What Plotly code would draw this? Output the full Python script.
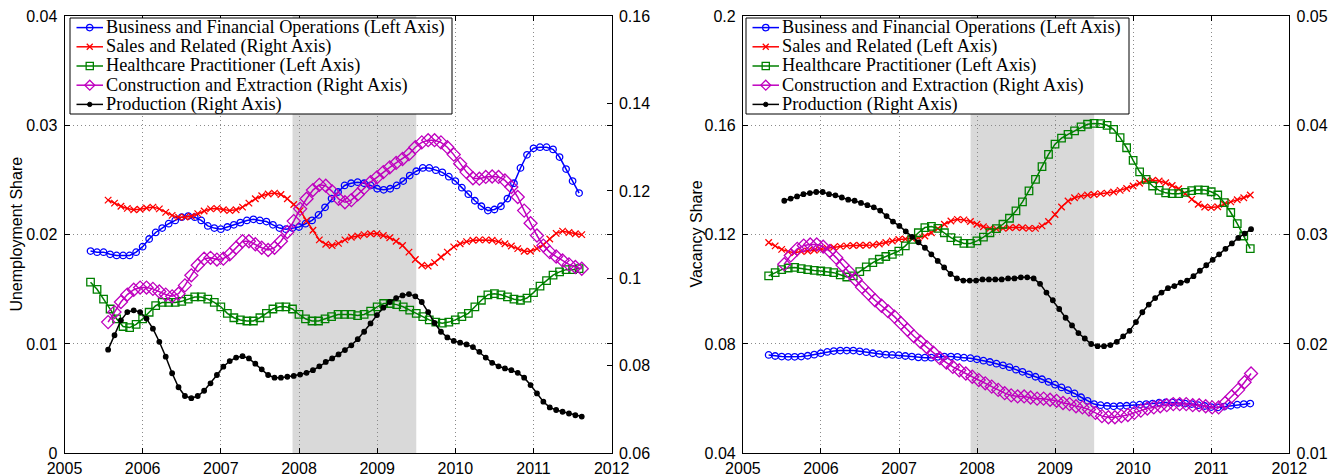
import numpy as np
import plotly.graph_objects as go

# ---------------- data (monthly shares) ----------------
YEARS = [2005, 2006, 2007, 2008, 2009, 2010, 2011, 2012]
RECESSION = (2007.917, 2009.5)

# Left panel: unemployment shares
u_span_left_axis = (2005.333, 2011.583)
u_span_right_axis = (2005.558, 2011.617)

u_business = [0.0185, 0.0184, 0.0184, 0.0182, 0.0181, 0.0181, 0.0181, 0.0184, 0.0189, 0.0196,
              0.0202, 0.0206, 0.0210, 0.0213, 0.0216, 0.0217, 0.0216, 0.0213, 0.0208, 0.0206,
              0.0205, 0.0207, 0.0209, 0.0211, 0.0213, 0.0214, 0.0213, 0.0212, 0.0209, 0.0206,
              0.0205, 0.0206, 0.0207, 0.0210, 0.0213, 0.0218, 0.0225, 0.0233, 0.0239, 0.0245,
              0.0247, 0.0248, 0.0247, 0.0245, 0.0242, 0.0241, 0.0242, 0.0245, 0.0249, 0.0254,
              0.0258, 0.0261, 0.0261, 0.0259, 0.0257, 0.0253, 0.0249, 0.0243, 0.0237, 0.0231,
              0.0226, 0.0222, 0.0223, 0.0226, 0.0233, 0.0247, 0.0261, 0.0273, 0.0279, 0.0280,
              0.0280, 0.0278, 0.0271, 0.0260, 0.0249, 0.0238]
u_sales = [0.1179, 0.1172, 0.1165, 0.1160, 0.1157, 0.1158, 0.1161, 0.1163, 0.1159, 0.1151,
           0.1144, 0.1140, 0.1140, 0.1142, 0.1148, 0.1154, 0.1159, 0.1160, 0.1157, 0.1155,
           0.1157, 0.1163, 0.1172, 0.1182, 0.1189, 0.1193, 0.1195, 0.1192, 0.1182, 0.1169,
           0.1155, 0.1132, 0.1110, 0.1088, 0.1078, 0.1075, 0.1080, 0.1088, 0.1094, 0.1097,
           0.1100, 0.1102, 0.1102, 0.1098, 0.1093, 0.1085, 0.1075, 0.1060, 0.1043, 0.1030,
           0.1028, 0.1036, 0.1049, 0.1060, 0.1072, 0.1079, 0.1084, 0.1087, 0.1088, 0.1088,
           0.1087, 0.1084, 0.1079, 0.1074, 0.1068, 0.1062, 0.1062, 0.1068, 0.1077, 0.1090,
           0.1103, 0.1108, 0.1105, 0.1102, 0.1100]
u_health = [0.01565, 0.0150, 0.0141, 0.0132, 0.0123, 0.0116, 0.0115, 0.0118, 0.0123, 0.0129,
            0.0135, 0.0138, 0.0138, 0.0138, 0.0139, 0.0141, 0.0143, 0.0143, 0.0141, 0.0138,
            0.0134, 0.0128, 0.0124, 0.0122, 0.0121, 0.0121, 0.0124, 0.0128, 0.0132, 0.0134,
            0.0134, 0.0132, 0.0127, 0.0123, 0.0121, 0.0121, 0.0123, 0.0125, 0.0127, 0.0127,
            0.0127, 0.0126, 0.0127, 0.0130, 0.0134, 0.0137, 0.0137, 0.0136, 0.0134, 0.0131,
            0.0128, 0.0125, 0.0122, 0.0120, 0.0119, 0.0120, 0.0122, 0.0125, 0.0128, 0.0134,
            0.0140, 0.0145, 0.0146, 0.0145, 0.0143, 0.0141, 0.0140, 0.0142, 0.0147, 0.0153,
            0.0158, 0.0163, 0.0166, 0.0168, 0.0168, 0.0169]
u_construction = [0.0900, 0.0923, 0.0946, 0.0963, 0.0974, 0.0979, 0.0979, 0.0976, 0.0970, 0.0963,
                  0.0959, 0.0965, 0.0984, 0.1007, 0.1030, 0.1045, 0.1047, 0.1043, 0.1045, 0.1055,
                  0.1070, 0.1085, 0.1085, 0.1078, 0.1070, 0.1065, 0.1070, 0.1085, 0.1106, 0.1131,
                  0.1159, 0.1182, 0.1202, 0.1214, 0.1212, 0.1199, 0.1182, 0.1174, 0.1179, 0.1192,
                  0.1207, 0.1220, 0.1231, 0.1243, 0.1254, 0.1264, 0.1273, 0.1284, 0.1300, 0.1311,
                  0.1316, 0.1316, 0.1311, 0.1300, 0.1283, 0.1262, 0.1243, 0.1229, 0.1228, 0.1232,
                  0.1233, 0.1232, 0.1224, 0.1209, 0.1186, 0.1155, 0.1126, 0.1098, 0.1075, 0.1060,
                  0.1050, 0.1041, 0.1032, 0.1026, 0.1022]
u_production = [0.0837, 0.0870, 0.0904, 0.0923, 0.0927, 0.0923, 0.0908, 0.0885, 0.0855, 0.0821,
                0.0783, 0.0751, 0.0731, 0.0726, 0.0731, 0.0743, 0.0760, 0.0779, 0.0798, 0.0811,
                0.0819, 0.0822, 0.0817, 0.0805, 0.0792, 0.0779, 0.0773, 0.0773, 0.0775, 0.0777,
                0.0780, 0.0784, 0.0790, 0.0799, 0.0809, 0.0817, 0.0826, 0.0836, 0.0847, 0.0861,
                0.0878, 0.0897, 0.0916, 0.0933, 0.0946, 0.0955, 0.0961, 0.0964, 0.0959, 0.0946,
                0.0923, 0.0898, 0.0878, 0.0865, 0.0857, 0.0853, 0.0849, 0.0843, 0.0832, 0.0819,
                0.0807, 0.0799, 0.0794, 0.0790, 0.0784, 0.0773, 0.0756, 0.0737, 0.0718, 0.0705,
                0.0699, 0.0695, 0.0691, 0.0687, 0.0684]

# Right panel: vacancy shares
v_span_left_axis = (2005.33, 2011.50)
v_span_right_axis = (2005.53, 2011.51)

v_business = [0.0760, 0.0756, 0.0754, 0.0753, 0.0753, 0.0754, 0.0757, 0.0761, 0.0766, 0.0771,
              0.0774, 0.0776, 0.0776, 0.0776, 0.0773, 0.0770, 0.0766, 0.0763, 0.0761, 0.0760,
              0.0759, 0.0756, 0.0754, 0.0751, 0.0750, 0.0750, 0.0753, 0.0754, 0.0754, 0.0753,
              0.0750, 0.0748, 0.0744, 0.0739, 0.0734, 0.0728, 0.0722, 0.0715, 0.0706, 0.0698,
              0.0689, 0.0680, 0.0671, 0.0661, 0.0651, 0.0641, 0.0631, 0.0619, 0.0605, 0.0592,
              0.0580, 0.0576, 0.0573, 0.0572, 0.0573, 0.0574, 0.0576, 0.0578, 0.0580, 0.0582,
              0.0585, 0.0586, 0.0586, 0.0585, 0.0582, 0.0580, 0.0576, 0.0573, 0.0569, 0.0568,
              0.0571, 0.0574, 0.0578, 0.0580, 0.0582]
v_sales = [0.1171, 0.1159, 0.1146, 0.1138, 0.1134, 0.1138, 0.1140, 0.1143, 0.1146, 0.1150,
           0.1154, 0.1157, 0.1159, 0.1160, 0.1161, 0.1161, 0.1162, 0.1166, 0.1171, 0.1177,
           0.1182, 0.1184, 0.1187, 0.1189, 0.1195, 0.1207, 0.1222, 0.1238, 0.1250, 0.1256,
           0.1254, 0.1248, 0.1238, 0.1229, 0.1223, 0.1221, 0.1223, 0.1225, 0.1227, 0.1225,
           0.1223, 0.1223, 0.1232, 0.1248, 0.1274, 0.1301, 0.1323, 0.1335, 0.1341, 0.1345,
           0.1347, 0.1350, 0.1352, 0.1356, 0.1362, 0.1369, 0.1378, 0.1388, 0.1396, 0.1399,
           0.1396, 0.1390, 0.1380, 0.1368, 0.1350, 0.1329, 0.1311, 0.1301, 0.1299, 0.1302,
           0.1311, 0.1320, 0.1328, 0.1335, 0.1345]
v_health = [0.1049, 0.1061, 0.1072, 0.1078, 0.1080, 0.1076, 0.1072, 0.1069, 0.1067, 0.1065,
            0.1061, 0.1053, 0.1045, 0.1049, 0.1065, 0.1082, 0.1098, 0.1110, 0.1120, 0.1128,
            0.1140, 0.1159, 0.1183, 0.1207, 0.1226, 0.1230, 0.1223, 0.1207, 0.1189, 0.1177,
            0.1168, 0.1168, 0.1177, 0.1191, 0.1207, 0.1222, 0.1238, 0.1260, 0.1287, 0.1320,
            0.1360, 0.1402, 0.1449, 0.1494, 0.1531, 0.1553, 0.1567, 0.1580, 0.1594, 0.1604,
            0.1607, 0.1606, 0.1600, 0.1585, 0.1555, 0.1518, 0.1472, 0.1430, 0.1402, 0.1378,
            0.1362, 0.1353, 0.1350, 0.1350, 0.1355, 0.1361, 0.1364, 0.1363, 0.1357, 0.1345,
            0.1317, 0.1281, 0.1240, 0.1195, 0.1149]
v_construction = [0.0273, 0.0281, 0.0287, 0.0290, 0.0291, 0.0291, 0.0289, 0.0285, 0.0279, 0.0272,
                  0.0266, 0.0259, 0.0252, 0.0246, 0.0240, 0.0235, 0.0230, 0.0225, 0.0219, 0.0213,
                  0.0207, 0.0202, 0.0197, 0.0192, 0.0187, 0.0183, 0.0179, 0.0176, 0.0173, 0.0170,
                  0.0167, 0.0164, 0.0161, 0.0158, 0.0155, 0.0153, 0.0152, 0.0152, 0.0151, 0.0150,
                  0.0150, 0.0149, 0.0148, 0.0146, 0.0145, 0.0143, 0.0142, 0.0140, 0.0137, 0.0134,
                  0.0133, 0.0133, 0.0134, 0.0135, 0.0137, 0.0139, 0.0141, 0.0142, 0.0143, 0.0144,
                  0.0145, 0.0145, 0.0145, 0.0144, 0.0144, 0.0143, 0.0142, 0.0142, 0.0146, 0.0152,
                  0.0158, 0.0165, 0.0173]
v_production = [0.0331, 0.0333, 0.0335, 0.0337, 0.0338, 0.0339, 0.0339, 0.0337, 0.0336, 0.0334,
                0.0332, 0.0331, 0.0329, 0.0327, 0.0325, 0.0322, 0.0317, 0.0312, 0.0308, 0.0303,
                0.0298, 0.0293, 0.0288, 0.0282, 0.0276, 0.0270, 0.0264, 0.0260, 0.0258, 0.0258,
                0.0258, 0.0259, 0.0259, 0.0259, 0.0259, 0.0260, 0.0260, 0.0261, 0.0261, 0.0260,
                0.0255, 0.0247, 0.0240, 0.0232, 0.0224, 0.0217, 0.0210, 0.0205, 0.0200, 0.0198,
                0.0198, 0.0199, 0.0202, 0.0207, 0.0212, 0.0220, 0.0229, 0.0236, 0.0242, 0.0247,
                0.0251, 0.0253, 0.0256, 0.0258, 0.0262, 0.0267, 0.0272, 0.0277, 0.0282, 0.0287,
                0.0292, 0.0297, 0.0301, 0.0305]

U_LEFT_TICKS = [0, 0.01, 0.02, 0.03, 0.04]
U_LEFT_TEXT = ["0", "0.01", "0.02", "0.03", "0.04"]
U_RIGHT_TICKS = [0.06, 0.08, 0.10, 0.12, 0.14, 0.16]
U_RIGHT_TEXT = ["0.06", "0.08", "0.1", "0.12", "0.14", "0.16"]
V_LEFT_TICKS = [0.04, 0.08, 0.12, 0.16, 0.2]
V_LEFT_TEXT = ["0.04", "0.08", "0.12", "0.16", "0.2"]
V_RIGHT_TICKS = [0.01, 0.02, 0.03, 0.04, 0.05]
V_RIGHT_TEXT = ["0.01", "0.02", "0.03", "0.04", "0.05"]

U_TITLE = "Unemployment Share"
V_TITLE = "Vacancy Share"
U_LABELS = ["Business and Financial Operations (Left Axis)", "Sales and Related (Right Axis)",
            "Healthcare Practitioner (Left Axis)", "Construction and Extraction (Right Axis)",
            "Production (Right Axis)"]
V_LABELS = ["Business and Financial Operations (Left Axis)", "Sales and Related (Left Axis)",
            "Healthcare Practitioner (Left Axis)", "Construction and Extraction (Right Axis)",
            "Production (Right Axis)"]
KEYS = ["business", "sales", "health", "construction", "production"]

# ---------------- styling ----------------
W, H = 1339, 476
BLUE, RED, GREEN, MAGENTA, BLACK = "#0000FF", "#FF0000", "#008000", "#BF00BF", "#000000"
STYLE = {
    "business": dict(color=BLUE, symbol="circle-open", size=6.5),
    "sales": dict(color=RED, symbol="x-thin-open", size=6.5),
    "health": dict(color=GREEN, symbol="square-open", size=7.5),
    "construction": dict(color=MAGENTA, symbol="diamond-open", size=10),
    "production": dict(color=BLACK, symbol="circle", size=4.5),
}


def months(span, values):
    return list(np.linspace(span[0], span[1], len(values)))


fig = go.Figure()


def add(values, span, key, name, xaxis, yaxis):
    st = STYLE[key]
    fig.add_trace(go.Scatter(
        x=months(span, values), y=values, mode="lines+markers", name=name,
        xaxis=xaxis, yaxis=yaxis, showlegend=False,
        line=dict(color=st["color"], width=1.5),
        marker=dict(symbol=st["symbol"], size=st["size"], color=st["color"],
                    line=dict(color=st["color"], width=1.3)),
    ))


add(u_business, u_span_left_axis, "business", U_LABELS[0], "x", "y")
add(u_sales, u_span_right_axis, "sales", U_LABELS[1], "x", "y2")
add(u_health, u_span_left_axis, "health", U_LABELS[2], "x", "y")
add(u_construction, u_span_right_axis, "construction", U_LABELS[3], "x", "y2")
add(u_production, u_span_right_axis, "production", U_LABELS[4], "x", "y2")

add(v_business, v_span_left_axis, "business", V_LABELS[0], "x2", "y3")
add(v_sales, v_span_left_axis, "sales", V_LABELS[1], "x2", "y3")
add(v_health, v_span_left_axis, "health", V_LABELS[2], "x2", "y3")
add(v_construction, v_span_right_axis, "construction", V_LABELS[3], "x2", "y4")
add(v_production, v_span_right_axis, "production", V_LABELS[4], "x2", "y4")

SANS = "Liberation Sans, Arial, sans-serif"
SERIF = "Liberation Serif, Times New Roman, serif"
TICKFONT = dict(family=SANS, size=16, color="black")
GRID = dict(showgrid=True, gridcolor="#8a8a8a", griddash="1px,3px", gridwidth=1)
LINE = dict(showline=True, linecolor="black", linewidth=1, ticks="inside", ticklen=5,
            tickcolor="black", zeroline=False, tickfont=TICKFONT, automargin=False)

XD1 = [64.5 / W, 611.7 / W]
XD2 = [742.9 / W, 1289.3 / W]
YD = [1 - 453.3 / H, 1 - 16 / H]

xax = dict(range=[2005, 2012], tickvals=YEARS, ticktext=[str(y) for y in YEARS],
           mirror="ticks", **GRID, **LINE)

# ---------------- hand-drawn legends (box, line samples, glyphs, text) ----------------
shapes = [
    dict(type="rect", xref="x", yref="y domain", x0=RECESSION[0], x1=RECESSION[1], y0=0, y1=1,
         fillcolor="#D9D9D9", line=dict(width=0), layer="below"),
    dict(type="rect", xref="x2", yref="y3 domain", x0=RECESSION[0], x1=RECESSION[1], y0=0, y1=1,
         fillcolor="#D9D9D9", line=dict(width=0), layer="below"),
]
annotations = []


def px(x):
    return x / W


def py(y):
    return 1 - y / H


def glyph(key, cx, cy):
    st = STYLE[key]
    base = dict(xref="paper", yref="paper", xsizemode="pixel", ysizemode="pixel",
                xanchor=px(cx), yanchor=py(cy), layer="above")
    c = st["color"]
    if key == "business":
        return dict(type="circle", x0=-3.2, x1=3.2, y0=-3.2, y1=3.2, line=dict(color=c, width=1.3),
                    fillcolor="rgba(0,0,0,0)", **base)
    if key == "sales":
        return dict(type="path", path="M-3,-3L3,3M-3,3L3,-3", line=dict(color=c, width=1.3), **base)
    if key == "health":
        return dict(type="rect", x0=-3.6, x1=3.6, y0=-3.6, y1=3.6, line=dict(color=c, width=1.3),
                    fillcolor="rgba(0,0,0,0)", **base)
    if key == "construction":
        return dict(type="path", path="M0,5L5,0L0,-5L-5,0Z", line=dict(color=c, width=1.3),
                    fillcolor="rgba(0,0,0,0)", **base)
    return dict(type="circle", x0=-2.2, x1=2.2, y0=-2.2, y1=2.2, line=dict(color=c, width=1),
                fillcolor=c, **base)


def legend(left, right, top, bottom, labels):
    shapes.append(dict(type="rect", xref="paper", yref="paper", x0=px(left), x1=px(right),
                       y0=py(bottom), y1=py(top), fillcolor="white",
                       line=dict(color="black", width=1), layer="above"))
    n = len(labels)
    for k, (key, lab) in enumerate(zip(KEYS, labels)):
        cy = top + (bottom - top) * (k + 0.5) / n
        c = STYLE[key]["color"]
        shapes.append(dict(type="line", xref="paper", yref="paper", x0=px(left + 6.5), x1=px(left + 33),
                           y0=py(cy), y1=py(cy), line=dict(color=c, width=1.5), layer="above"))
        shapes.append(glyph(key, left + 19.75, cy))
        annotations.append(dict(xref="paper", yref="paper", x=px(left + 34), y=py(cy), text=lab,
                                showarrow=False, xanchor="left", yanchor="middle",
                                font=dict(family=SERIF, size=18.3, color="black")))


legend(70, 452, 18, 114, U_LABELS)
legend(746, 1129, 18, 114, V_LABELS)

# y-axis titles placed as rotated text
for title, xc in ((U_TITLE, 17), (V_TITLE, 697)):
    annotations.append(dict(xref="paper", yref="paper", x=px(xc), y=py(234.6), text=title,
                            textangle=-90, showarrow=False, xanchor="center", yanchor="middle",
                            font=dict(family=SANS, size=16, color="black")))

fig.update_layout(
    width=W, height=H,
    margin=dict(l=0, r=0, t=0, b=0),
    paper_bgcolor="white", plot_bgcolor="white",
    showlegend=False,
    xaxis=dict(domain=XD1, anchor="y", **xax),
    yaxis=dict(domain=YD, anchor="x", range=[0, 0.04], tickvals=U_LEFT_TICKS, ticktext=U_LEFT_TEXT,
               mirror="ticks", ticklabelstandoff=3, **GRID, **LINE),
    yaxis2=dict(overlaying="y", anchor="x", side="right", range=[0.06, 0.16],
                tickvals=U_RIGHT_TICKS, ticktext=U_RIGHT_TEXT, showgrid=False, ticklabelstandoff=3, **LINE),
    xaxis2=dict(domain=XD2, anchor="y3", **xax),
    yaxis3=dict(domain=YD, anchor="x2", range=[0.04, 0.2], tickvals=V_LEFT_TICKS, ticktext=V_LEFT_TEXT,
                mirror="ticks", ticklabelstandoff=3, **GRID, **LINE),
    yaxis4=dict(overlaying="y3", anchor="x2", side="right", range=[0.01, 0.05],
                tickvals=V_RIGHT_TICKS, ticktext=V_RIGHT_TEXT, showgrid=False, ticklabelstandoff=3, **LINE),
    shapes=shapes,
    annotations=annotations,
)

fig.write_html("out.html", config={"displayModeBar": False},
               post_script="document.body.style.margin='0px';")
